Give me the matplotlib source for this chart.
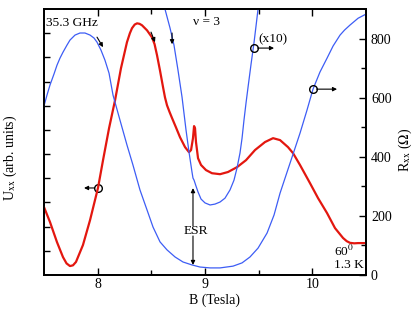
import numpy as np
import matplotlib
matplotlib.use("Agg")
import matplotlib.pyplot as plt

plt.rcParams['font.family'] = ['Liberation Serif', 'DejaVu Serif']
plt.rcParams['mathtext.fontset'] = 'stix'
plt.rcParams['font.size'] = 10

# U_xx trace (left axis, arb. units)
b_red = [7.50, 7.556, 7.621, 7.677, 7.71, 7.742, 7.77, 7.798, 7.863, 7.929,
         8.003, 8.05, 8.106, 8.162, 8.217, 8.273, 8.30, 8.32, 8.345, 8.367,
         8.39, 8.413, 8.46, 8.506, 8.53, 8.553, 8.581, 8.609, 8.627, 8.646,
         8.67, 8.693, 8.73, 8.767, 8.814, 8.851, 8.87, 8.888, 8.898, 8.907,
         8.916, 8.935, 8.963, 9.009, 9.065, 9.14, 9.214, 9.298, 9.382, 9.466,
         9.559, 9.634, 9.699, 9.773, 9.82, 9.885, 9.978, 10.053, 10.137, 10.211,
         10.286, 10.32, 10.351, 10.39, 10.426, 10.50]
u_red = [2.81, 2.19, 1.36, 0.74, 0.48, 0.37, 0.40, 0.54, 1.24, 2.27,
         3.60, 4.75, 6.07, 7.23, 8.55, 9.63, 10.0, 10.21, 10.36, 10.41,
         10.39, 10.33, 10.12, 9.83, 9.55, 9.09, 8.45, 7.77, 7.35, 7.02,
         6.74, 6.49, 6.10, 5.70, 5.29, 5.08, 5.17, 5.66, 6.16, 6.07,
         5.50, 4.83, 4.55, 4.34, 4.21, 4.17, 4.26, 4.46, 4.75, 5.17,
         5.50, 5.66, 5.58, 5.29, 5.04, 4.55, 3.80, 3.18, 2.56, 1.94,
         1.53, 1.40, 1.33, 1.31, 1.32, 1.32]

# R_xx trace (right axis, Ohm)
b_rxx = [7.50, 7.528, 7.556, 7.593, 7.621, 7.649, 7.677, 7.714, 7.742, 7.789,
         7.835, 7.882, 7.929, 7.966, 7.994, 8.031, 8.068, 8.106, 8.143, 8.208,
         8.273, 8.329, 8.394, 8.46, 8.516, 8.581, 8.646, 8.721, 8.795, 8.879,
         8.953, 9.047, 9.14, 9.261, 9.345, 9.419, 9.494, 9.578, 9.643, 9.699,
         9.764, 9.82, 9.885, 9.95, 10.006, 10.071, 10.137, 10.193, 10.258, 10.30,
         10.351, 10.426, 10.50]
r_rxx = [572, 609, 643, 680, 710, 734, 754, 778, 795, 812,
         819, 819, 812, 802, 788, 761, 727, 683, 609, 524,
         440, 372, 288, 220, 162, 112, 85, 61, 44, 34,
         27, 24, 24, 30, 41, 61, 91, 142, 203, 277,
         348, 409, 480, 558, 629, 687, 734, 775, 812, 829,
         846, 869, 883]

# R_xx trace near nu = 3 shown x10 (right axis)
b_x10 = [8.609, 8.627, 8.674, 8.711, 8.748, 8.786, 8.823, 8.851, 8.879, 8.888,
         8.898, 8.916, 8.935, 8.963, 9.00, 9.047, 9.093, 9.14, 9.186, 9.233,
         9.27, 9.298, 9.326, 9.345, 9.363, 9.382, 9.401, 9.429, 9.457, 9.475,
         9.494, 9.503]
r_x10 = [930, 900, 836, 778, 694, 602, 491, 416, 348, 328,
         321, 301, 281, 257, 244, 237, 240, 247, 260, 288,
         321, 362, 413, 463, 524, 582, 636, 714, 788, 842,
         900, 930]

red = '#e3170f'
blue = '#3d5df5'

fig = plt.figure(figsize=(4.15, 3.13), dpi=100)
ax = fig.add_axes([0.106, 0.1214, 0.776, 0.8496])
ax2 = ax.twinx()

ax.plot(b_red, u_red, color=red, lw=1.6, zorder=3)
ax2.plot(b_rxx, r_rxx, color=blue, lw=0.9)
ax2.plot(b_x10, r_x10, color=blue, lw=0.9)

ax.set_xlim(7.5, 10.5)
ax.set_ylim(0, 11.0)
ax2.set_ylim(0, 900)
ax.set_xticks([8, 9, 10])
ax.set_xticks([8.5, 9.5], minor=True)
ax.set_yticks(np.arange(1, 11))
ax.set_yticklabels([])
ax2.set_yticks([0, 200, 400, 600, 800])
ax2.set_yticks([100, 300, 500, 700], minor=True)

ax.tick_params(axis='x', which='both', direction='in', top=True, width=1.0, pad=2.5)
ax.tick_params(axis='x', which='major', length=5)
ax.tick_params(axis='x', which='minor', length=3.5)
ax.tick_params(axis='y', which='both', direction='in', length=4, width=1.0, right=False)
ax2.tick_params(axis='y', which='major', direction='in', length=5, width=1.0)
ax2.tick_params(axis='y', which='minor', direction='in', length=3.5, width=1.0)
for a in (ax, ax2):
    for s in a.spines.values():
        s.set_linewidth(1.3)

ax.set_xlabel('B (Tesla)')
ax.xaxis.set_label_coords(0.531, -0.068)
ax.set_ylabel(r'U$_{\rm xx}$ (arb. units)')
ax.yaxis.set_label_coords(-0.078, 0.44)
ax2.set_ylabel(r'R$_{\rm xx}$ ($\Omega$)')
ax2.yaxis.set_label_coords(1.095, 0.47)

# texts
ax.text(0.006, 0.947, '35.3 GHz', transform=ax.transAxes, va='center', ha='left', fontsize=9.6)
ax.text(0.463, 0.951, 'ν = 3', transform=ax.transAxes, va='center', ha='left', fontsize=9.6)
ax.text(0.665, 0.887, '(x10)', transform=ax.transAxes, va='center', ha='left', fontsize=9.6)
ax.text(0.902, 0.088, r'60$^0$', transform=ax.transAxes, va='center', ha='left', fontsize=9.6)
ax.text(0.902, 0.038, '1.3 K', transform=ax.transAxes, va='center', ha='left', fontsize=9.6)
ax2.text(8.916, 149, 'ESR', ha='center', va='center', fontsize=9.6)

arrow = dict(arrowstyle='-|>', lw=0.8, color='k', mutation_scale=6, shrinkA=0, shrinkB=0)

# curve markers with axis arrows
ax.plot([8.003], [3.6], marker='o', ms=5.5, mfc='none', mec='k', mew=1.0)
ax.annotate('', xy=(7.873, 3.6), xytext=(7.97, 3.6), arrowprops=arrow)
ax2.plot([9.457], [768], marker='o', ms=5.5, mfc='none', mec='k', mew=1.0)
ax2.annotate('', xy=(9.643, 768), xytext=(9.49, 768), arrowprops=arrow)
ax2.plot([10.006], [629], marker='o', ms=5.5, mfc='none', mec='k', mew=1.0)
ax2.annotate('', xy=(10.23, 629), xytext=(10.04, 629), arrowprops=arrow)

# sweep direction arrows
ax2.annotate('', xy=(8.05, 771), xytext=(7.994, 805), arrowprops=arrow)
ax2.annotate('', xy=(8.534, 788), xytext=(8.497, 822), arrowprops=arrow)
ax2.annotate('', xy=(8.693, 781), xytext=(8.693, 819), arrowprops=arrow)

# ESR arrows
ax2.annotate('', xy=(8.888, 294), xytext=(8.888, 166), arrowprops=arrow)
ax2.annotate('', xy=(8.888, 34), xytext=(8.888, 132), arrowprops=arrow)

fig.savefig('out.png', dpi=100)
